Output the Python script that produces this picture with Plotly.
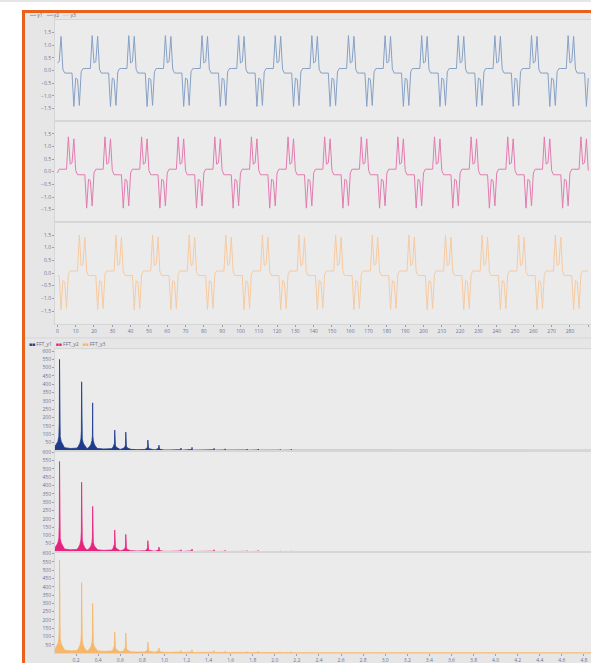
import plotly.graph_objects as go

W, H = 591, 663

# ---------------- time-domain data (t = 0 .. 290) ----------------
TIME = list(range(291))

Y1 = [
    0.3, 0.35, 1.35, 0.05, -0.1, -0.1, -0.1, -0.1, -0.1, -1.42, -0.3, -0.35, -1.38, -0.05, 0.08, 0.08, 0.08, 0.08, 0.08, 1.38,
    0.3, 0.35, 1.35, 0.05, -0.1, -0.1, -0.1, -0.1, -0.1, -1.42, -0.3, -0.35, -1.38, -0.05, 0.08, 0.08, 0.08, 0.08, 0.08, 1.38,
    0.3, 0.35, 1.35, 0.05, -0.1, -0.1, -0.1, -0.1, -0.1, -1.42, -0.3, -0.35, -1.38, -0.05, 0.08, 0.08, 0.08, 0.08, 0.08, 1.38,
    0.3, 0.35, 1.35, 0.05, -0.1, -0.1, -0.1, -0.1, -0.1, -1.42, -0.3, -0.35, -1.38, -0.05, 0.08, 0.08, 0.08, 0.08, 0.08, 1.38,
    0.3, 0.35, 1.35, 0.05, -0.1, -0.1, -0.1, -0.1, -0.1, -1.42, -0.3, -0.35, -1.38, -0.05, 0.08, 0.08, 0.08, 0.08, 0.08, 1.38,
    0.3, 0.35, 1.35, 0.05, -0.1, -0.1, -0.1, -0.1, -0.1, -1.42, -0.3, -0.35, -1.38, -0.05, 0.08, 0.08, 0.08, 0.08, 0.08, 1.38,
    0.3, 0.35, 1.35, 0.05, -0.1, -0.1, -0.1, -0.1, -0.1, -1.42, -0.3, -0.35, -1.38, -0.05, 0.08, 0.08, 0.08, 0.08, 0.08, 1.38,
    0.3, 0.35, 1.35, 0.05, -0.1, -0.1, -0.1, -0.1, -0.1, -1.42, -0.3, -0.35, -1.38, -0.05, 0.08, 0.08, 0.08, 0.08, 0.08, 1.38,
    0.3, 0.35, 1.35, 0.05, -0.1, -0.1, -0.1, -0.1, -0.1, -1.42, -0.3, -0.35, -1.38, -0.05, 0.08, 0.08, 0.08, 0.08, 0.08, 1.38,
    0.3, 0.35, 1.35, 0.05, -0.1, -0.1, -0.1, -0.1, -0.1, -1.42, -0.3, -0.35, -1.38, -0.05, 0.08, 0.08, 0.08, 0.08, 0.08, 1.38,
    0.3, 0.35, 1.35, 0.05, -0.1, -0.1, -0.1, -0.1, -0.1, -1.42, -0.3, -0.35, -1.38, -0.05, 0.08, 0.08, 0.08, 0.08, 0.08, 1.38,
    0.3, 0.35, 1.35, 0.05, -0.1, -0.1, -0.1, -0.1, -0.1, -1.42, -0.3, -0.35, -1.38, -0.05, 0.08, 0.08, 0.08, 0.08, 0.08, 1.38,
    0.3, 0.35, 1.35, 0.05, -0.1, -0.1, -0.1, -0.1, -0.1, -1.42, -0.3, -0.35, -1.38, -0.05, 0.08, 0.08, 0.08, 0.08, 0.08, 1.38,
    0.3, 0.35, 1.35, 0.05, -0.1, -0.1, -0.1, -0.1, -0.1, -1.42, -0.3, -0.35, -1.38, -0.05, 0.08, 0.08, 0.08, 0.08, 0.08, 1.38,
    0.3, 0.35, 1.35, 0.05, -0.1, -0.1, -0.1, -0.1, -0.1, -1.42, -0.3,
]

Y2 = [
    -0.05, 0.1, 0.1, 0.1, 0.1, 0.1, 1.38, 0.3, 0.35, 1.3, 0.05, -0.12, -0.12, -0.12, -0.12, -0.12, -1.44, -0.3, -0.35, -1.35,
    -0.05, 0.1, 0.1, 0.1, 0.1, 0.1, 1.38, 0.3, 0.35, 1.3, 0.05, -0.12, -0.12, -0.12, -0.12, -0.12, -1.44, -0.3, -0.35, -1.35,
    -0.05, 0.1, 0.1, 0.1, 0.1, 0.1, 1.38, 0.3, 0.35, 1.3, 0.05, -0.12, -0.12, -0.12, -0.12, -0.12, -1.44, -0.3, -0.35, -1.35,
    -0.05, 0.1, 0.1, 0.1, 0.1, 0.1, 1.38, 0.3, 0.35, 1.3, 0.05, -0.12, -0.12, -0.12, -0.12, -0.12, -1.44, -0.3, -0.35, -1.35,
    -0.05, 0.1, 0.1, 0.1, 0.1, 0.1, 1.38, 0.3, 0.35, 1.3, 0.05, -0.12, -0.12, -0.12, -0.12, -0.12, -1.44, -0.3, -0.35, -1.35,
    -0.05, 0.1, 0.1, 0.1, 0.1, 0.1, 1.38, 0.3, 0.35, 1.3, 0.05, -0.12, -0.12, -0.12, -0.12, -0.12, -1.44, -0.3, -0.35, -1.35,
    -0.05, 0.1, 0.1, 0.1, 0.1, 0.1, 1.38, 0.3, 0.35, 1.3, 0.05, -0.12, -0.12, -0.12, -0.12, -0.12, -1.44, -0.3, -0.35, -1.35,
    -0.05, 0.1, 0.1, 0.1, 0.1, 0.1, 1.38, 0.3, 0.35, 1.3, 0.05, -0.12, -0.12, -0.12, -0.12, -0.12, -1.44, -0.3, -0.35, -1.35,
    -0.05, 0.1, 0.1, 0.1, 0.1, 0.1, 1.38, 0.3, 0.35, 1.3, 0.05, -0.12, -0.12, -0.12, -0.12, -0.12, -1.44, -0.3, -0.35, -1.35,
    -0.05, 0.1, 0.1, 0.1, 0.1, 0.1, 1.38, 0.3, 0.35, 1.3, 0.05, -0.12, -0.12, -0.12, -0.12, -0.12, -1.44, -0.3, -0.35, -1.35,
    -0.05, 0.1, 0.1, 0.1, 0.1, 0.1, 1.38, 0.3, 0.35, 1.3, 0.05, -0.12, -0.12, -0.12, -0.12, -0.12, -1.44, -0.3, -0.35, -1.35,
    -0.05, 0.1, 0.1, 0.1, 0.1, 0.1, 1.38, 0.3, 0.35, 1.3, 0.05, -0.12, -0.12, -0.12, -0.12, -0.12, -1.44, -0.3, -0.35, -1.35,
    -0.05, 0.1, 0.1, 0.1, 0.1, 0.1, 1.38, 0.3, 0.35, 1.3, 0.05, -0.12, -0.12, -0.12, -0.12, -0.12, -1.44, -0.3, -0.35, -1.35,
    -0.05, 0.1, 0.1, 0.1, 0.1, 0.1, 1.38, 0.3, 0.35, 1.3, 0.05, -0.12, -0.12, -0.12, -0.12, -0.12, -1.44, -0.3, -0.35, -1.35,
    -0.05, 0.1, 0.1, 0.1, 0.1, 0.1, 1.38, 0.3, 0.35, 1.3, 0.05,
]

Y3 = [
    -0.1, -0.1, -1.45, -0.3, -0.35, -1.4, -0.05, 0.08, 0.08, 0.08, 0.08, 0.08, 1.5, 0.3, 0.35, 1.42, 0.05, -0.1, -0.1, -0.1,
    -0.1, -0.1, -1.45, -0.3, -0.35, -1.4, -0.05, 0.08, 0.08, 0.08, 0.08, 0.08, 1.5, 0.3, 0.35, 1.42, 0.05, -0.1, -0.1, -0.1,
    -0.1, -0.1, -1.45, -0.3, -0.35, -1.4, -0.05, 0.08, 0.08, 0.08, 0.08, 0.08, 1.5, 0.3, 0.35, 1.42, 0.05, -0.1, -0.1, -0.1,
    -0.1, -0.1, -1.45, -0.3, -0.35, -1.4, -0.05, 0.08, 0.08, 0.08, 0.08, 0.08, 1.5, 0.3, 0.35, 1.42, 0.05, -0.1, -0.1, -0.1,
    -0.1, -0.1, -1.45, -0.3, -0.35, -1.4, -0.05, 0.08, 0.08, 0.08, 0.08, 0.08, 1.5, 0.3, 0.35, 1.42, 0.05, -0.1, -0.1, -0.1,
    -0.1, -0.1, -1.45, -0.3, -0.35, -1.4, -0.05, 0.08, 0.08, 0.08, 0.08, 0.08, 1.5, 0.3, 0.35, 1.42, 0.05, -0.1, -0.1, -0.1,
    -0.1, -0.1, -1.45, -0.3, -0.35, -1.4, -0.05, 0.08, 0.08, 0.08, 0.08, 0.08, 1.5, 0.3, 0.35, 1.42, 0.05, -0.1, -0.1, -0.1,
    -0.1, -0.1, -1.45, -0.3, -0.35, -1.4, -0.05, 0.08, 0.08, 0.08, 0.08, 0.08, 1.5, 0.3, 0.35, 1.42, 0.05, -0.1, -0.1, -0.1,
    -0.1, -0.1, -1.45, -0.3, -0.35, -1.4, -0.05, 0.08, 0.08, 0.08, 0.08, 0.08, 1.5, 0.3, 0.35, 1.42, 0.05, -0.1, -0.1, -0.1,
    -0.1, -0.1, -1.45, -0.3, -0.35, -1.4, -0.05, 0.08, 0.08, 0.08, 0.08, 0.08, 1.5, 0.3, 0.35, 1.42, 0.05, -0.1, -0.1, -0.1,
    -0.1, -0.1, -1.45, -0.3, -0.35, -1.4, -0.05, 0.08, 0.08, 0.08, 0.08, 0.08, 1.5, 0.3, 0.35, 1.42, 0.05, -0.1, -0.1, -0.1,
    -0.1, -0.1, -1.45, -0.3, -0.35, -1.4, -0.05, 0.08, 0.08, 0.08, 0.08, 0.08, 1.5, 0.3, 0.35, 1.42, 0.05, -0.1, -0.1, -0.1,
    -0.1, -0.1, -1.45, -0.3, -0.35, -1.4, -0.05, 0.08, 0.08, 0.08, 0.08, 0.08, 1.5, 0.3, 0.35, 1.42, 0.05, -0.1, -0.1, -0.1,
    -0.1, -0.1, -1.45, -0.3, -0.35, -1.4, -0.05, 0.08, 0.08, 0.08, 0.08, 0.08, 1.5, 0.3, 0.35, 1.42, 0.05, -0.1, -0.1, -0.1,
    -0.1, -0.1, -1.45, -0.3, -0.35, -1.4, -0.05, 0.08, 0.08, 0.08, 0.08,
]

# ---------------- spectrum data ----------------
FREQ = [
    0.0, 0.02, 0.035, 0.044, 0.048, 0.05, 0.052, 0.056, 0.065, 0.08, 0.095,
    0.15,
    0.205, 0.22, 0.235, 0.244, 0.248, 0.25, 0.252, 0.256, 0.265, 0.28, 0.295,
    0.305, 0.32, 0.335, 0.344, 0.348, 0.35, 0.352, 0.356, 0.365, 0.38, 0.395,
    0.45,
    0.505, 0.52, 0.535, 0.544, 0.548, 0.55, 0.552, 0.556, 0.565, 0.58, 0.595,
    0.605, 0.62, 0.635, 0.644, 0.648, 0.65, 0.652, 0.656, 0.665, 0.68, 0.695,
    0.75,
    0.805, 0.82, 0.835, 0.844, 0.848, 0.85, 0.852, 0.856, 0.865, 0.88, 0.895,
    0.905, 0.92, 0.935, 0.944, 0.948, 0.95, 0.952, 0.956, 0.965, 0.98, 0.995,
    1.05,
    1.14, 1.148, 1.15, 1.152, 1.16, 1.24, 1.248, 1.25, 1.252, 1.26,
    1.35,
    1.44, 1.448, 1.45, 1.452, 1.46, 1.54, 1.548, 1.55, 1.552, 1.56,
    1.65,
    1.74, 1.748, 1.75, 1.752, 1.76, 1.84, 1.848, 1.85, 1.852, 1.86,
    1.95,
    2.04, 2.048, 2.05, 2.052, 2.06, 2.14, 2.148, 2.15, 2.152, 2.16,
    2.25,
    2.34, 2.348, 2.35, 2.352, 2.36, 2.44, 2.448, 2.45, 2.452, 2.46,
    2.55,
    2.64, 2.648, 2.65, 2.652, 2.66, 2.74, 2.748, 2.75, 2.752, 2.76,
    2.85, 3.5, 4.2, 4.88,
]

FFT_Y1 = [
    15, 35, 55, 85, 170, 550, 170, 85, 55, 35, 18,
    13,
    15, 25, 45, 70, 120, 415, 120, 70, 45, 25, 15,
    14, 22, 38, 60, 90, 288, 90, 60, 38, 22, 13,
    10,
    9, 12, 20, 32, 45, 124, 45, 32, 20, 12, 9,
    8, 10, 16, 26, 38, 112, 38, 26, 16, 10, 8,
    6,
    5, 7, 11, 16, 22, 64, 22, 16, 11, 7, 5,
    5, 6, 8, 11, 14, 33, 14, 11, 8, 6, 4,
    4,
    3, 6, 16, 6, 3, 3, 7, 20, 7, 3,
    3,
    3, 5, 14, 5, 3, 3, 4, 11, 4, 3,
    2.5,
    2.5, 4, 9, 4, 2.5, 2.5, 4, 10, 4, 2.5,
    2,
    2, 3, 7, 3, 2, 2, 3, 8, 3, 2,
    2,
    2, 3, 6, 3, 2, 2, 3, 6, 3, 2,
    2,
    2, 2.5, 5, 2.5, 2, 2, 2.5, 5, 2.5, 2,
    1.5, 1.5, 1.5, 1.5,
]

FFT_Y2 = [
    15, 34, 54, 83, 165, 545, 165, 83, 54, 34, 18,
    13,
    15, 25, 46, 72, 125, 420, 125, 72, 46, 25, 15,
    14, 21, 37, 58, 88, 275, 88, 58, 37, 21, 13,
    10,
    9, 12, 21, 34, 48, 132, 48, 34, 21, 12, 9,
    8, 10, 15, 24, 36, 106, 36, 24, 15, 10, 8,
    6,
    5, 7, 11, 17, 24, 68, 24, 17, 11, 7, 5,
    5, 6, 8, 10, 13, 30, 13, 10, 8, 6, 4,
    4,
    3, 6, 14, 6, 3, 3, 7, 18, 7, 3,
    3,
    3, 5, 14, 5, 3, 3, 4, 10, 4, 3,
    2.5,
    2.5, 4, 8, 4, 2.5, 2.5, 4, 9, 4, 2.5,
    2,
    2, 3, 7, 3, 2, 2, 3, 7, 3, 2,
    2,
    2, 3, 6, 3, 2, 2, 3, 5, 3, 2,
    2,
    2, 2.5, 5, 2.5, 2, 2, 2.5, 4, 2.5, 2,
    1.5, 1.5, 1.5, 1.5,
]

FFT_Y3 = [
    15, 36, 56, 87, 175, 560, 175, 87, 56, 36, 18,
    13,
    15, 25, 46, 72, 125, 425, 125, 72, 46, 25, 15,
    14, 23, 40, 62, 95, 300, 95, 62, 40, 23, 13,
    10,
    9, 12, 20, 32, 46, 128, 46, 32, 20, 12, 9,
    8, 10, 17, 27, 40, 120, 40, 27, 17, 10, 8,
    6,
    5, 7, 11, 16, 22, 66, 22, 16, 11, 7, 5,
    5, 6, 8, 11, 14, 31, 14, 11, 8, 6, 4,
    4,
    3, 6, 15, 6, 3, 3, 7, 19, 7, 3,
    3,
    3, 5, 15, 5, 3, 3, 4, 11, 4, 3,
    2.5,
    2.5, 4, 9, 4, 2.5, 2.5, 4, 10, 4, 2.5,
    2,
    2, 3, 7, 3, 2, 2, 3, 8, 3, 2,
    2,
    2, 3, 6, 3, 2, 2, 3, 6, 3, 2,
    2,
    2, 2.5, 5, 2.5, 2, 2, 2.5, 5, 2.5, 2,
    1.5, 1.5, 1.5, 1.5,
]

SERIES_NAMES = ["y1", "y2", "y3"]
FFT_NAMES = ["FFT_y1", "FFT_y2", "FFT_y3"]

TIME_XTICKS = [0, 10, 20, 30, 40, 50, 60, 70, 80, 90, 100, 110, 120, 130, 140,
               150, 160, 170, 180, 190, 200, 210, 220, 230, 240, 250, 260, 270, 280, 290]
TIME_YTICKS = [-1.5, -1.0, -0.5, 0.0, 0.5, 1.0, 1.5]
FREQ_XTICKS = [0.0, 0.2, 0.4, 0.6, 0.8, 1.0, 1.2, 1.4, 1.6, 1.8, 2.0, 2.2, 2.4,
               2.6, 2.8, 3.0, 3.2, 3.4, 3.6, 3.8, 4.0, 4.2, 4.4, 4.6, 4.8]
FFT_YTICKS = [50, 100, 150, 200, 250, 300, 350, 400, 450, 500, 550, 600]

assert len(Y1) == len(Y2) == len(Y3) == len(TIME)
assert len(FREQ) == len(FFT_Y1) == len(FFT_Y2) == len(FFT_Y3)

# ---------------- styling ----------------
LINE_COLORS = ["#86a0c6", "#e27bb0", "#f6caa0"]
FFT_COLORS = ["#1d3c8c", "#e8237f", "#f7b76a"]
TICK_FONT = dict(family="Open Sans", size=5, color="#6e7398")
AXIS_LINE = "#d6d6d6"
PLOT_BG = "#ebebeb"


def py(px):
    return 1 - px / H


def px_x(px):
    return px / W


X_DOMAIN = [px_x(55), 1.0]
TIME_BANDS = [(18, 119.5), (119.5, 221), (221, 322.7)]
FFT_BANDS = [(348.5, 450), (450, 551.7), (551.7, 653)]

fig = go.Figure()

for i, (ys, name, col) in enumerate(zip([Y1, Y2, Y3], SERIES_NAMES, LINE_COLORS)):
    k = i + 1
    fig.add_trace(go.Scatter(
        x=TIME, y=ys, name=name, mode="lines",
        line=dict(color=col, width=1),
        xaxis=f"x{k}", yaxis=f"y{k}", showlegend=False,
    ))

for i, (ys, name, col) in enumerate(zip([FFT_Y1, FFT_Y2, FFT_Y3], FFT_NAMES, FFT_COLORS)):
    k = i + 4
    fig.add_trace(go.Scatter(
        x=FREQ, y=ys, name=name, mode="lines",
        line=dict(color=col, width=0.8), fill="tozeroy", fillcolor=col,
        xaxis=f"x{k}", yaxis=f"y{k}", showlegend=False,
    ))

layout = dict(
    width=W, height=H,
    margin=dict(l=0, r=0, t=0, b=0),
    paper_bgcolor="#e6e6e6",
    plot_bgcolor=PLOT_BG,
    showlegend=False,
    font=dict(family="Open Sans", size=5, color="#6e7398"),
)

for i, (top, bot) in enumerate(TIME_BANDS):
    k = i + 1
    last = (i == 2)
    layout[f"xaxis{k}"] = dict(
        domain=X_DOMAIN, anchor=f"y{k}", range=[-1.3, 291.5],
        showgrid=False, zeroline=False, showline=True, mirror=True,
        linecolor=AXIS_LINE, linewidth=1,
        tickvals=TIME_XTICKS, showticklabels=last,
        ticks="outside" if last else "", ticklen=2, tickcolor="#9a9cb8",
        tickfont=TICK_FONT,
    )
    layout[f"yaxis{k}"] = dict(
        domain=[py(bot), py(top)], anchor=f"x{k}", range=[-2, 2],
        showgrid=False, zeroline=False, showline=True, linecolor=AXIS_LINE,
        tickvals=TIME_YTICKS, tickformat=".1f", ticks="outside", ticklen=2,
        tickcolor="#9a9cb8", tickfont=TICK_FONT,
    )

for i, (top, bot) in enumerate(FFT_BANDS):
    k = i + 4
    last = (i == 2)
    layout[f"xaxis{k}"] = dict(
        domain=X_DOMAIN, anchor=f"y{k}", range=[0.009, 4.864],
        showgrid=False, zeroline=False, showline=True, mirror=True,
        linecolor=AXIS_LINE, linewidth=1,
        tickvals=FREQ_XTICKS, tickformat=".1f", showticklabels=last,
        ticks="outside" if last else "", ticklen=2, tickcolor="#9a9cb8",
        tickfont=TICK_FONT,
    )
    layout[f"yaxis{k}"] = dict(
        domain=[py(bot), py(top)], anchor=f"x{k}", range=[0, 610],
        showgrid=False, zeroline=False, showline=True, linecolor=AXIS_LINE,
        tickvals=FFT_YTICKS, ticks="outside", ticklen=2,
        tickcolor="#9a9cb8", tickfont=TICK_FONT,
    )

fig.update_layout(**layout)

# frame: white outside, orange border
shapes = [
    dict(type="rect", xref="paper", yref="paper", x0=0, x1=px_x(22), y0=0, y1=1,
         fillcolor="white", line=dict(width=0), layer="above"),
    dict(type="rect", xref="paper", yref="paper", x0=0, x1=1, y0=py(8), y1=1,
         fillcolor="white", line=dict(width=0), layer="above"),
    dict(type="line", xref="paper", yref="paper", x0=px_x(23.5), x1=px_x(23.5),
         y0=0, y1=py(8), line=dict(color="#e8611d", width=3), layer="above"),
    dict(type="line", xref="paper", yref="paper", x0=px_x(22), x1=1,
         y0=py(9.5), y1=py(9.5), line=dict(color="#e8611d", width=3), layer="above"),
    dict(type="line", xref="paper", yref="paper", x0=px_x(25), x1=1,
         y0=py(337), y1=py(337), line=dict(color="#d6d6d6", width=1), layer="below"),
]
fig.update_layout(shapes=shapes)

# legends drawn as text rows
legend_top = "   ".join(
    f"<span style='color:{c}'>━━</span> {n}" for n, c in zip(SERIES_NAMES, LINE_COLORS)
)
legend_fft = "   ".join(
    f"<span style='color:{c}'>■■</span> {n}" for n, c in zip(FFT_NAMES, FFT_COLORS)
)
fig.add_annotation(xref="paper", yref="paper", x=px_x(27), y=py(13),
                   xanchor="left", yanchor="middle", showarrow=False,
                   text=legend_top, font=dict(family="Open Sans", size=5, color="#666a80"))
fig.add_annotation(xref="paper", yref="paper", x=px_x(27), y=py(343),
                   xanchor="left", yanchor="middle", showarrow=False,
                   text=legend_fft, font=dict(family="Open Sans", size=5, color="#666a80"))

fig.write_html(
    "out.html",
    config={"displayModeBar": False},
    post_script="document.body.style.margin='0';document.body.style.overflow='hidden';",
)
